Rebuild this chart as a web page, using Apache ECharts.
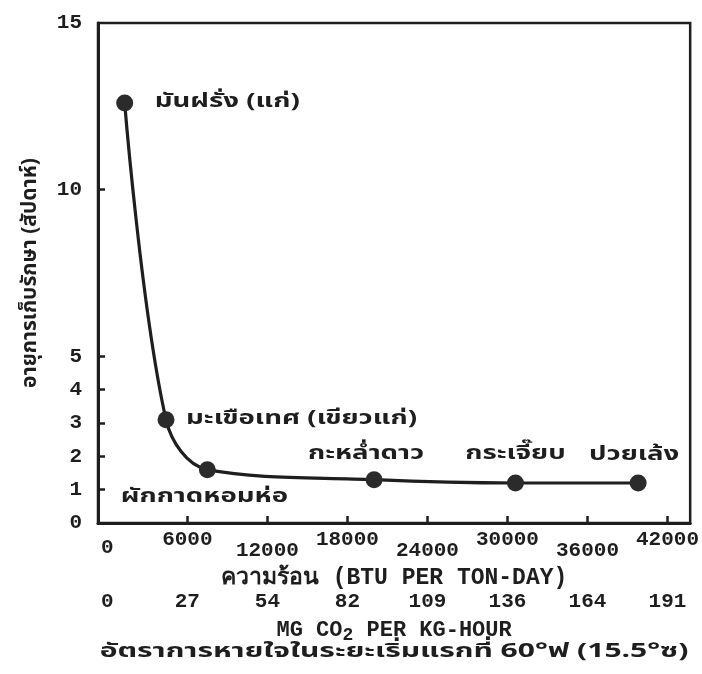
<!DOCTYPE html>
<html>
<head>
<meta charset="utf-8">
<script src="https://cdn.jsdelivr.net/npm/echarts@6/dist/echarts.min.js"></script>
<style>
  html, body { margin: 0; padding: 0; background: #ffffff; }
  #chart { width: 702px; height: 674px; }
</style>
</head>
<body>
<div id="chart"></div>
<script>
// Storage life of produce versus heat of respiration
const produce = ['มันฝรั่ง (แก่)', 'มะเขือเทศ (เขียวแก่)', 'ผักกาดหอมห่อ', 'กะหล่ำดาว', 'กระเจี๊ยบ', 'ปวยเล้ง'];
const heatBtu = [1300, 4400, 7500, 20000, 30600, 39800];
const storageWeeks = [12.6, 3.1, 1.6, 1.3, 1.2, 1.2];

const btuTicks = [0, 6000, 12000, 18000, 24000, 30000, 36000, 42000];
const co2Ticks = ['0', '27', '54', '82', '109', '136', '164', '191'];
const weekTicks = [0, 1, 2, 3, 4, 5, 10, 15];

const INK = '#1e1e1e';
const MONO = "'Liberation Mono', 'DejaVu Sans Mono', monospace";
const THAI = "'Noto Sans Thai', 'Loma', 'Garuda', 'Norasi', 'Liberation Mono', sans-serif";
const NUM = 21;
const WIDE = 1.45; // typewriter-style horizontal stretch for the Thai captions

// label anchor relative to its point (pixels) and text alignment
const labelAnchor = [
  { dx: 30, dy: 0, align: 'left' },
  { dx: 20, dy: 0, align: 'left' },
  { dx: -3, dy: 28, align: 'center' },
  { dx: -8, dy: -25, align: 'center' },
  { dx: 0, dy: -28, align: 'center' },
  { dx: -4, dy: -27, align: 'center' }
];

const points = heatBtu.map((x, i) => [x, storageWeeks[i]]);

const chart = echarts.init(document.getElementById('chart'), null, { renderer: 'canvas' });

chart.setOption({
  animation: false,
  backgroundColor: '#ffffff',
  grid: {
    left: 98, right: 6, top: 23, bottom: 151,
    show: true, borderColor: INK, borderWidth: 2.5, backgroundColor: 'transparent'
  },
  graphic: [{
    type: 'text', x: 394, y: 653, scaleX: 1.5, silent: true,
    style: {
      text: 'อัตราการหายใจในระยะเริ่มแรกที่ 60°ฟ (15.5°ซ)',
      fill: INK, font: 'bold 20px ' + THAI, align: 'center', verticalAlign: 'middle'
    }
  }],
  xAxis: [
    {
      type: 'value', position: 'bottom', min: -700, max: 43700,
      splitLine: { show: false },
      axisLine: { show: true, onZero: false, lineStyle: { color: INK, width: 3 } },
      axisTick: { show: true, inside: true, length: 7, lineStyle: { color: INK, width: 2.5 },
        customValues: btuTicks.slice(1) },
      axisLabel: {
        customValues: btuTicks, margin: 9, color: INK,
        fontFamily: MONO, fontSize: NUM, fontWeight: 'bold',
        formatter: function (v) {
          const i = btuTicks.indexOf(v);
          if (i === 0) return '{z|' + v + '}';
          return (i % 2 === 1 ? '{hi|' : '{lo|') + v + '}';
        },
        rich: {
          hi: { lineHeight: 16, fontFamily: MONO, fontSize: NUM, fontWeight: 'bold', color: INK },
          lo: { lineHeight: 38, fontFamily: MONO, fontSize: NUM, fontWeight: 'bold', color: INK },
          z: { lineHeight: 32, fontFamily: MONO, fontSize: NUM, fontWeight: 'bold', color: INK }
        }
      },
      name: 'ความร้อน (BTU PER TON-DAY)', nameLocation: 'middle', nameGap: 44,
      nameTextStyle: { color: INK, fontFamily: MONO, fontSize: 23, fontWeight: 'bold' }
    },
    {
      type: 'value', position: 'bottom', offset: 66, min: -700, max: 43700,
      splitLine: { show: false },
      axisLine: { show: false },
      axisTick: { show: false },
      axisLabel: {
        customValues: btuTicks, margin: 5, color: INK,
        fontFamily: MONO, fontSize: NUM, fontWeight: 'bold', lineHeight: 16,
        formatter: function (v) { return co2Ticks[btuTicks.indexOf(v)]; }
      },
      name: '{t|MG CO}{s|2}{t| PER KG-HOUR}',
      nameLocation: 'middle', nameGap: 21,
      nameTextStyle: {
        color: INK, fontFamily: MONO, fontSize: 22,
        rich: {
          t: { fontFamily: MONO, fontSize: 22, fontWeight: 'bold', color: INK, lineHeight: 23 },
          s: { fontFamily: MONO, fontSize: 18, fontWeight: 'bold', color: INK, lineHeight: 23, padding: [9, 0, 0, 0] }
        }
      }
    }
  ],
  yAxis: {
    type: 'value', min: 0, max: 15, interval: 1,
    splitLine: { show: false },
    axisLine: { show: true, onZero: false, lineStyle: { color: INK, width: 3 } },
    axisTick: { show: true, inside: true, length: 7, lineStyle: { color: INK, width: 2.5 },
      customValues: [1, 2, 3, 4, 5, 10] },
    axisLabel: {
      customValues: weekTicks, margin: 16, color: INK,
      fontFamily: MONO, fontSize: NUM, fontWeight: 'bold'
    },
    name: 'อายุการเก็บรักษา (สัปดาห์)', nameLocation: 'middle', nameRotate: 90, nameGap: 56,
    nameTextStyle: { color: INK, fontFamily: THAI, fontSize: 21, fontWeight: 'bold' }
  },
  series: [
    {
      type: 'line',
      data: points,
      smooth: 0.35,
      symbol: 'circle',
      symbolSize: 17,
      lineStyle: { color: INK, width: 3.2 },
      itemStyle: { color: '#2b2b2b' },
      label: { show: false }
    },
    {
      // produce names, stretched horizontally beside each point
      type: 'custom',
      data: points,
      silent: true,
      z: 5,
      renderItem: function (params, api) {
        const p = api.coord([api.value(0), api.value(1)]);
        const a = labelAnchor[params.dataIndex];
        return {
          type: 'text',
          x: p[0] + a.dx, y: p[1] + a.dy, scaleX: WIDE,
          style: {
            text: produce[params.dataIndex], fill: INK,
            font: 'bold 19px ' + THAI, align: a.align, verticalAlign: 'middle'
          }
        };
      }
    }
  ]
});
</script>
</body>
</html>
